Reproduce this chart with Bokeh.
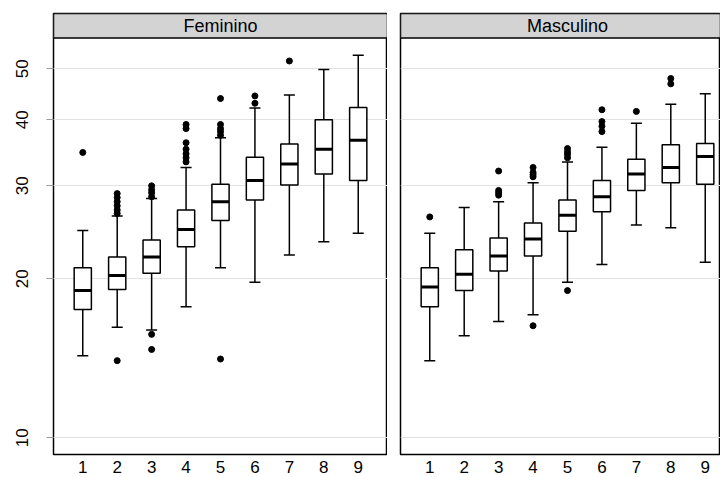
from bokeh.plotting import figure
from bokeh.models import (FixedTicker, BoxAnnotation, Label, ColumnDataSource,
                          Range1d, NumeralTickFormatter)
from bokeh.layouts import row
from bokeh.transform import dodge
from bokeh.embed import file_html
from bokeh.resources import INLINE

# ---------------- data ----------------
categories = [1, 2, 3, 4, 5, 6, 7, 8, 9]
x_tick_labels = ["1", "2", "3", "4", "5", "6", "7", "8", "9"]
y_ticks = [10, 20, 30, 40, 50]
panel_titles = ["Feminino", "Masculino"]

fem_lower = [14.3, 16.2, 16.0, 17.7, 21.0, 19.7, 22.2, 23.5, 24.4]
fem_q1 = [17.5, 19.1, 20.5, 23.0, 25.8, 28.2, 30.1, 31.6, 30.7]
fem_med = [19.0, 20.3, 22.0, 24.8, 28.0, 30.7, 33.0, 35.2, 36.6]
fem_q3 = [21.0, 22.0, 23.7, 27.0, 30.2, 34.0, 36.0, 40.0, 42.2]
fem_upper = [24.7, 26.3, 28.4, 32.5, 37.0, 42.1, 44.6, 49.8, 53.0]
fem_out_x = [1,
             2, 2, 2, 2, 2, 2, 2,
             3, 3, 3, 3, 3, 3,
             4, 4, 4, 4, 4, 4, 4,
             5, 5, 5, 5, 5, 5,
             6, 6,
             7]
fem_out_y = [34.7,
             29.0, 28.5, 28.0, 27.5, 27.0, 26.6, 14.0,
             30.0, 29.5, 29.1, 28.6, 15.7, 14.7,
             39.2, 38.5, 36.2, 35.2, 34.5, 33.9, 33.3,
             43.9, 39.2, 38.5, 38.0, 37.4, 14.1,
             44.4, 43.0,
             51.7]

masc_lower = [14.0, 15.6, 16.6, 17.1, 19.7, 21.3, 25.3, 25.0, 21.5]
masc_q1 = [17.7, 19.0, 20.7, 22.1, 24.6, 26.8, 29.4, 30.4, 30.2]
masc_med = [19.3, 20.4, 22.1, 23.8, 26.4, 28.6, 31.6, 32.5, 34.1]
masc_q3 = [21.0, 22.7, 23.9, 25.5, 28.2, 30.7, 33.7, 35.9, 36.1]
masc_upper = [24.4, 27.3, 28.0, 30.4, 33.3, 35.5, 39.4, 42.8, 44.8]
masc_out_x = [1,
              3, 3, 3, 3,
              4, 4, 4, 4, 4,
              5, 5, 5, 5, 5,
              6, 6, 6, 6,
              7,
              8, 8]
masc_out_y = [26.2,
              32.0, 29.4, 29.1, 28.8,
              32.5, 31.8, 31.5, 31.2, 16.3,
              35.3, 34.8, 34.4, 33.9, 19.0,
              41.8, 39.7, 38.9, 38.0,
              41.5,
              47.9, 46.8]

# ---------------- layout constants ----------------
FONT = "Liberation Sans"
X_START, X_END_FULL = 0.15, 9.85
Y_BOTTOM, Y_TOP = 9.298, 63.6
STRIP_BOTTOM = 57.14
FRAME_W = 334
PX_PER_UNIT = FRAME_W / (X_END_FULL - X_START)
TOP_BORDER = 13
BOTTOM_BORDER = 23
FRAME_H = 441
HEIGHT = TOP_BORDER + FRAME_H + BOTTOM_BORDER


def make_panel(title, lower, q1, med, q3, upper, out_x, out_y,
               show_y, frame_w, border_left):
    x_end = X_START + frame_w / PX_PER_UNIT
    p = figure(width=border_left + frame_w, height=HEIGHT,
               y_axis_type="log",
               x_range=Range1d(X_START, x_end),
               y_range=Range1d(Y_BOTTOM, Y_TOP),
               output_backend="svg", toolbar_location=None,
               min_border_left=border_left, min_border_right=0,
               min_border_top=TOP_BORDER, min_border_bottom=BOTTOM_BORDER)
    p.background_fill_color = "white"
    p.border_fill_color = "white"
    p.outline_line_color = "black"
    p.outline_line_width = 1.5

    # grid
    p.xgrid.visible = False
    p.ygrid.ticker = FixedTicker(ticks=y_ticks)
    p.ygrid.grid_line_color = "#e2e2e2"
    p.ygrid.grid_line_width = 1.2

    # x axis
    xa = p.xaxis[0]
    xa.ticker = FixedTicker(ticks=categories)
    xa.major_label_overrides = {c: l for c, l in zip(categories, x_tick_labels)}
    xa.axis_line_color = None
    xa.major_tick_line_color = None
    xa.minor_tick_line_color = None
    xa.major_tick_out = 0
    xa.major_tick_in = 0
    xa.major_label_standoff = 6
    xa.major_label_text_font = FONT
    xa.major_label_text_font_size = "17px"
    xa.major_label_text_color = "black"

    # y axis
    ya = p.yaxis[0]
    ya.ticker = FixedTicker(ticks=y_ticks)
    ya.formatter = NumeralTickFormatter(format="0")
    if show_y:
        ya.axis_line_color = None
        ya.major_tick_line_color = "#9a9a9a"
        ya.major_tick_out = 7
        ya.major_tick_in = 0
        ya.minor_tick_line_color = None
        ya.major_label_orientation = "vertical"
        ya.major_label_standoff = 18
        ya.major_label_text_font = FONT
        ya.major_label_text_font_size = "17px"
        ya.major_label_text_color = "black"
    else:
        ya.visible = False

    src = ColumnDataSource(dict(x=categories, lower=lower, q1=q1, med=med,
                                q3=q3, upper=upper))
    # whiskers
    p.segment(x0="x", y0="q3", x1="x", y1="upper", source=src,
              line_color="black", line_width=1.5)
    p.segment(x0="x", y0="lower", x1="x", y1="q1", source=src,
              line_color="black", line_width=1.5)
    p.segment(x0=dodge("x", -0.16), y0="upper", x1=dodge("x", 0.16), y1="upper",
              source=src, line_color="black", line_width=1.5)
    p.segment(x0=dodge("x", -0.16), y0="lower", x1=dodge("x", 0.16), y1="lower",
              source=src, line_color="black", line_width=1.5)
    # boxes
    p.vbar(x="x", width=0.5, bottom="q1", top="q3", source=src,
           fill_color="white", line_color="black", line_width=1.5)
    # medians
    p.segment(x0=dodge("x", -0.25), y0="med", x1=dodge("x", 0.25), y1="med",
              source=src, line_color="black", line_width=3)
    # outliers
    p.scatter(x=out_x, y=out_y, size=6, fill_color="black", line_color="black")

    # strip
    strip = BoxAnnotation(bottom=STRIP_BOTTOM, fill_color="#d3d3d3", fill_alpha=1.0,
                          line_color="black", line_width=1.5, line_alpha=1.0)
    p.add_layout(strip)
    p.add_layout(Label(x=(X_START + X_END_FULL) / 2,
                       y=(STRIP_BOTTOM * Y_TOP) ** 0.5,
                       text=title, text_align="center", text_baseline="middle",
                       text_font=FONT, text_font_size="18px", text_color="black"))
    return p


p1 = make_panel(panel_titles[0], fem_lower, fem_q1, fem_med, fem_q3, fem_upper,
                fem_out_x, fem_out_y, True, FRAME_W, 53)
p2 = make_panel(panel_titles[1], masc_lower, masc_q1, masc_med, masc_q3, masc_upper,
                masc_out_x, masc_out_y, False, 320, 13)

layout = row(p1, p2, spacing=0)
open("out.html", "w").write(file_html(layout, INLINE))
